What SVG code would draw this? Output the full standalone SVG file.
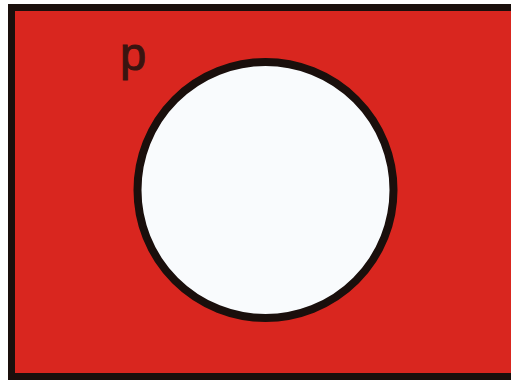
<svg xmlns="http://www.w3.org/2000/svg" width="511" height="385" viewBox="0 0 511 385">
<style>
.box{fill:#d9261f;stroke:#1a0f0c;stroke-width:7}
.set{fill:#f9fbfd;stroke:#1a0f0c;stroke-width:8}
.lbl{font-family:"Liberation Sans",Arial,sans-serif;font-size:47px;fill:#3a1410;stroke:#3a1410;stroke-width:1}
</style>
<rect width="511" height="385" fill="#ffffff"/>
<g id="universe">
<rect class="box" x="11.5" y="7.5" width="510" height="369"/>
<text class="lbl" x="120" y="70">p</text>
</g>
<g id="set-p">
<circle class="set" cx="265.5" cy="190" r="128"/>
</g>
<g id="connectors"></g>
</svg>
